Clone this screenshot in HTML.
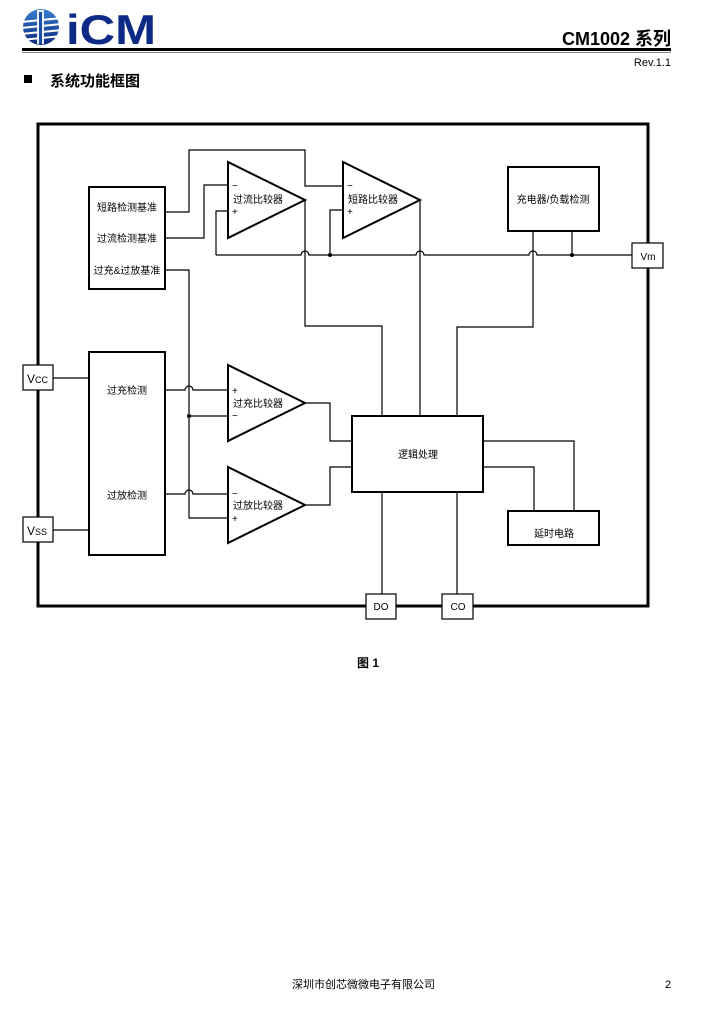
<!DOCTYPE html>
<html><head><meta charset="utf-8"><style>
html,body{margin:0;padding:0;background:#fff;}
svg{display:block;}
text{font-family:"Liberation Sans","Noto Sans CJK SC",sans-serif;fill:#000;}
</style></head><body>
<svg width="705" height="1014" viewBox="0 0 705 1014" xmlns="http://www.w3.org/2000/svg">
<defs>
<linearGradient id="g" x1="0" y1="0" x2="0" y2="1"><stop offset="0" stop-color="#3a7fd0"/><stop offset="1" stop-color="#0b2a80"/></linearGradient>
</defs>
<!-- logo -->
<circle cx="41" cy="27" r="18" fill="url(#g)"/>
<g stroke="#fff" stroke-width="2">
<line x1="21" y1="22" x2="62" y2="18"/><line x1="21" y1="28" x2="62" y2="24"/><line x1="21" y1="34" x2="62" y2="30"/><line x1="21" y1="40" x2="62" y2="36"/>
</g>
<rect x="37" y="10" width="7" height="34" fill="#fff" opacity="0.9"/>
<rect x="39" y="12" width="3" height="32" fill="#1a4fa8"/>
<text x="66" y="44" font-size="42" font-weight="bold" style="fill:#0d2a86" textLength="90" lengthAdjust="spacingAndGlyphs">iCM</text>
<!-- header -->
<text x="671" y="45" font-size="18" font-weight="bold" text-anchor="end">CM1002 系列</text>
<rect x="22" y="48" width="649" height="3" fill="#000"/>
<line x1="22" y1="52.5" x2="671" y2="52.5" stroke="#888" stroke-width="1"/>
<text x="671" y="66" font-size="11" text-anchor="end">Rev.1.1</text>
<rect x="24" y="75" width="8" height="8" fill="#000"/>
<text x="50" y="86" font-size="15" font-weight="bold">系统功能框图</text>

<!-- outer box -->
<rect x="38" y="124" width="610" height="482" fill="none" stroke="#000" stroke-width="3"/>

<g fill="none" stroke="#000" stroke-width="1.2">
<!-- wires -->
<polyline points="165,212 189,212 189,150 305,150 305,186 343,186"/>
<polyline points="165,238 204,238 204,185 228,185"/>
<polyline points="228,211 216,211 216,255"/>
<polyline points="343,210 330,210 330,255"/>
<path d="M216 255 H301 a4 4 0 0 1 8 0 H416 a4 4 0 0 1 8 0 H529 a4 4 0 0 1 8 0 H632"/>
<polyline points="305,200 305,326 382,326 382,416"/>
<line x1="420" y1="200" x2="420" y2="416"/>
<polyline points="533,231 533,327 457,327 457,416"/>
<line x1="572" y1="231" x2="572" y2="255"/>
<polyline points="165,270 189,270 189,518 228,518"/>
<line x1="189" y1="416" x2="228" y2="416"/>
<path d="M165 390 H185 a4 4 0 0 1 8 0 H228"/>
<path d="M165 494 H185 a4 4 0 0 1 8 0 H228"/>
<polyline points="305,403 330,403 330,441 352,441"/>
<polyline points="305,505 330,505 330,467 352,467"/>
<polyline points="483,441 574,441 574,511"/>
<polyline points="483,467 534,467 534,511"/>
<line x1="382" y1="492" x2="382" y2="594"/>
<line x1="457" y1="492" x2="457" y2="594"/>
<line x1="53" y1="378" x2="89" y2="378"/>
<line x1="53" y1="530" x2="89" y2="530"/>
<line x1="632" y1="255" x2="648" y2="255"/>
</g>
<g fill="#000">
<circle cx="330" cy="255" r="2"/><circle cx="572" cy="255" r="2"/><circle cx="189" cy="416" r="2"/>
</g>

<g fill="#fff" stroke="#000" stroke-width="2">
<rect x="89" y="187" width="76" height="102"/>
<rect x="89" y="352" width="76" height="203"/>
<rect x="508" y="167" width="91" height="64"/>
<rect x="352" y="416" width="131" height="76"/>
<rect x="508" y="511" width="91" height="34"/>
<polygon points="228,162 228,238 305,200"/>
<polygon points="343,162 343,238 420,200"/>
<polygon points="228,365 228,441 305,403"/>
<polygon points="228,467 228,543 305,505"/>
</g>
<g fill="#fff" stroke="#000" stroke-width="1.2">
<rect x="632" y="243" width="31" height="25"/>
<rect x="23" y="365" width="30" height="25"/>
<rect x="23" y="517" width="30" height="25"/>
<rect x="366" y="594" width="30" height="25"/>
<rect x="442" y="594" width="31" height="25"/>
</g>

<g font-size="10">
<text x="127" y="211" text-anchor="middle">短路检测基准</text>
<text x="127" y="242" text-anchor="middle">过流检测基准</text>
<text x="127" y="274" text-anchor="middle">过充&amp;过放基准</text>
<text x="232" y="189">−</text><text x="233" y="203">过流比较器</text><text x="232" y="215">+</text>
<text x="347" y="189">−</text><text x="348" y="203">短路比较器</text><text x="347" y="215">+</text>
<text x="232" y="394">+</text><text x="233" y="407">过充比较器</text><text x="232" y="419">−</text>
<text x="232" y="497">−</text><text x="233" y="509">过放比较器</text><text x="232" y="522">+</text>
<text x="553" y="203" text-anchor="middle">充电器/负载检测</text>
<text x="127" y="394" text-anchor="middle">过充检测</text>
<text x="127" y="499" text-anchor="middle">过放检测</text>
<text x="418" y="458" text-anchor="middle">逻辑处理</text>
<text x="554" y="537" text-anchor="middle">延时电路</text>
<text x="648" y="260" text-anchor="middle">Vm</text>
<text x="381" y="610" text-anchor="middle">DO</text>
<text x="458" y="610" text-anchor="middle">CO</text>
</g>
<text x="27" y="383" font-size="12">V<tspan font-size="9">CC</tspan></text>
<text x="27" y="535" font-size="12">V<tspan font-size="9">SS</tspan></text>

<text x="357" y="667" font-size="12" font-weight="bold">图 1</text>
<text x="292" y="988" font-size="11">深圳市创芯微微电子有限公司</text>
<text x="665" y="988" font-size="11">2</text>
</svg>
</body></html>
